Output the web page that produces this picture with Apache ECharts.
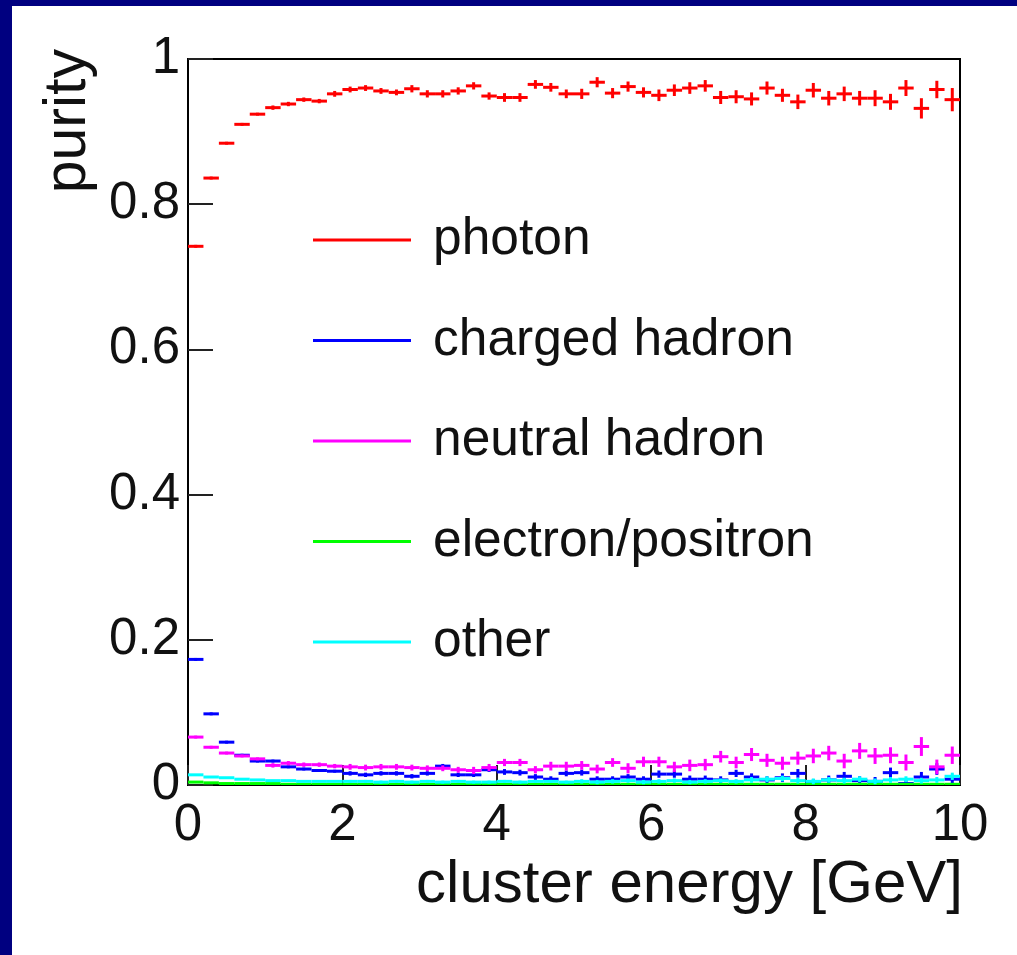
<!DOCTYPE html>
<html>
<head>
<meta charset="utf-8">
<script src="https://cdn.jsdelivr.net/npm/echarts@6/dist/echarts.min.js"></script>
<style>
html,body{margin:0;padding:0;background:#fff;}
#chart{width:1017px;height:955px;}
</style>
</head>
<body>
<div id="chart"></div>
<script>
// ---- data (bins of 0.2 GeV from 0 to 10 GeV) ----
const binWidth = 0.2;
const seriesNames = ['photon', 'charged hadron', 'neutral hadron', 'electron/positron', 'other'];
const seriesColors = ['#ff0000', '#0000ff', '#ff00ff', '#00ff00', '#00ffff'];
const xTicks = [0, 2, 4, 6, 8, 10];
const yTicks = [0, 0.2, 0.4, 0.6, 0.8, 1];

const photon = [0.742, 0.836, 0.884, 0.910, 0.924, 0.933, 0.938, 0.944, 0.942, 0.952,
                0.958, 0.960, 0.956, 0.954, 0.959, 0.952, 0.952, 0.956, 0.963, 0.949,
                0.947, 0.947, 0.965, 0.961, 0.952, 0.952, 0.968, 0.953, 0.962, 0.954,
                0.950, 0.957, 0.960, 0.963, 0.947, 0.948, 0.945, 0.960, 0.950, 0.941,
                0.957, 0.946, 0.952, 0.946, 0.946, 0.941, 0.960, 0.932, 0.958, 0.944];
const photonErr = [0.002, 0.002, 0.002, 0.002, 0.002, 0.003, 0.003, 0.003, 0.003, 0.004,
                   0.004, 0.004, 0.004, 0.004, 0.005, 0.005, 0.005, 0.005, 0.005, 0.005,
                   0.006, 0.006, 0.006, 0.006, 0.006, 0.007, 0.007, 0.007, 0.007, 0.007,
                   0.008, 0.008, 0.008, 0.008, 0.009, 0.009, 0.009, 0.009, 0.009, 0.010,
                   0.010, 0.010, 0.010, 0.010, 0.011, 0.011, 0.011, 0.014, 0.012, 0.016];

const charged = [0.173, 0.098, 0.059, 0.041, 0.033, 0.033, 0.025, 0.022, 0.020, 0.019,
                 0.016, 0.014, 0.016, 0.016, 0.012, 0.016, 0.026, 0.014, 0.014, 0.021,
                 0.018, 0.017, 0.011, 0.008, 0.016, 0.017, 0.008, 0.008, 0.011, 0.008,
                 0.015, 0.015, 0.008, 0.008, 0.007, 0.016, 0.011, 0.007, 0.010, 0.016,
                 0.003, 0.007, 0.012, 0.006, 0.005, 0.017, 0.002, 0.011, 0.022, 0.008];
const chargedErr = [0.002, 0.002, 0.002, 0.002, 0.002, 0.002, 0.002, 0.002, 0.002, 0.002,
                    0.003, 0.003, 0.003, 0.003, 0.003, 0.003, 0.003, 0.003, 0.003, 0.003,
                    0.004, 0.004, 0.004, 0.004, 0.004, 0.004, 0.004, 0.004, 0.004, 0.004,
                    0.005, 0.005, 0.005, 0.005, 0.005, 0.005, 0.005, 0.005, 0.006, 0.006,
                    0.005, 0.006, 0.006, 0.006, 0.006, 0.007, 0.005, 0.007, 0.008, 0.006];

const neutral = [0.066, 0.052, 0.044, 0.040, 0.036, 0.027, 0.030, 0.028, 0.028, 0.026,
                 0.025, 0.024, 0.025, 0.025, 0.024, 0.023, 0.023, 0.021, 0.020, 0.024,
                 0.031, 0.031, 0.021, 0.026, 0.026, 0.027, 0.022, 0.031, 0.023, 0.032,
                 0.032, 0.025, 0.027, 0.028, 0.039, 0.031, 0.042, 0.034, 0.030, 0.037,
                 0.040, 0.044, 0.033, 0.047, 0.040, 0.041, 0.031, 0.053, 0.025, 0.041];
const neutralErr = [0.002, 0.002, 0.002, 0.002, 0.002, 0.003, 0.003, 0.003, 0.003, 0.003,
                    0.004, 0.004, 0.004, 0.004, 0.004, 0.004, 0.004, 0.004, 0.005, 0.005,
                    0.005, 0.005, 0.005, 0.006, 0.006, 0.006, 0.006, 0.006, 0.007, 0.007,
                    0.007, 0.007, 0.008, 0.008, 0.008, 0.008, 0.009, 0.009, 0.009, 0.009,
                    0.010, 0.010, 0.010, 0.011, 0.011, 0.011, 0.011, 0.013, 0.010, 0.012];

const electron = [0.004, 0.003, 0.002, 0.002, 0.002, 0.002, 0.001, 0.001, 0.001, 0.001,
                  0.001, 0.001, 0.001, 0.001, 0.001, 0.001, 0.001, 0.001, 0.001, 0.001,
                  0.001, 0.001, 0.001, 0.001, 0.001, 0.001, 0.001, 0.001, 0.001, 0.001,
                  0.001, 0.001, 0.001, 0.001, 0.001, 0.001, 0.001, 0.001, 0.001, 0.001,
                  0.001, 0.001, 0.001, 0.001, 0.001, 0.001, 0.001, 0.001, 0.001, 0.001];
const electronErr = [0.001, 0.001, 0.001, 0.001, 0.001, 0.001, 0.001, 0.001, 0.001, 0.001,
                     0.001, 0.001, 0.001, 0.001, 0.001, 0.001, 0.001, 0.001, 0.001, 0.001,
                     0.001, 0.001, 0.001, 0.001, 0.001, 0.001, 0.001, 0.001, 0.001, 0.001,
                     0.001, 0.001, 0.001, 0.001, 0.001, 0.001, 0.001, 0.001, 0.001, 0.001,
                     0.001, 0.001, 0.001, 0.001, 0.001, 0.001, 0.001, 0.001, 0.001, 0.001];

const other = [0.014, 0.011, 0.010, 0.008, 0.007, 0.006, 0.006, 0.005, 0.005, 0.005,
               0.005, 0.005, 0.004, 0.005, 0.004, 0.005, 0.004, 0.005, 0.004, 0.004,
               0.005, 0.004, 0.005, 0.005, 0.004, 0.005, 0.004, 0.005, 0.006, 0.004,
               0.005, 0.006, 0.004, 0.005, 0.006, 0.005, 0.007, 0.008, 0.009, 0.006,
               0.005, 0.007, 0.006, 0.008, 0.005, 0.007, 0.008, 0.006, 0.007, 0.012];
const otherErr = [0.001, 0.001, 0.001, 0.001, 0.001, 0.001, 0.001, 0.001, 0.001, 0.001,
                  0.002, 0.002, 0.002, 0.002, 0.002, 0.002, 0.002, 0.002, 0.002, 0.002,
                  0.002, 0.002, 0.002, 0.002, 0.002, 0.003, 0.003, 0.003, 0.003, 0.003,
                  0.003, 0.003, 0.003, 0.003, 0.003, 0.003, 0.004, 0.004, 0.004, 0.004,
                  0.004, 0.004, 0.004, 0.004, 0.004, 0.004, 0.004, 0.004, 0.004, 0.005];

const allValues = [photon, charged, neutral, electron, other];
const allErrors = [photonErr, chargedErr, neutralErr, electronErr, otherErr];

// ---- chart ----
const FONT = "'Liberation Sans', Arial, Helvetica, sans-serif";

function toData(vals, errs) {
  return vals.map((v, i) => [i * binWidth, (i + 1) * binWidth, v, errs[i]]);
}

function makeRender(color) {
  return function (params, api) {
    const x0 = api.value(0), x1 = api.value(1), y = api.value(2), e = api.value(3);
    const a = api.coord([x0, y]);
    const b = api.coord([x1, y]);
    const xm = (a[0] + b[0]) / 2;
    const yt = api.coord([(x0 + x1) / 2, y + e])[1];
    const yb = api.coord([(x0 + x1) / 2, y - e])[1];
    return {
      type: 'group',
      children: [
        { type: 'line', shape: { x1: a[0], y1: a[1], x2: b[0], y2: b[1] },
          style: { stroke: color, lineWidth: 3 } },
        { type: 'line', shape: { x1: xm, y1: yt, x2: xm, y2: yb },
          style: { stroke: color, lineWidth: 3 } }
      ]
    };
  };
}

const series = seriesNames.map((name, k) => ({
  name: name,
  type: 'custom',
  renderItem: makeRender(seriesColors[k]),
  itemStyle: { color: seriesColors[k] },
  encode: { x: [0, 1], y: 2 },
  clip: true,
  data: toData(allValues[k], allErrors[k])
}));

const chart = echarts.init(document.getElementById('chart'), null, { renderer: 'canvas' });
chart.setOption({
  animation: false,
  backgroundColor: '#ffffff',
  color: seriesColors,
  grid: {
    left: 188, right: 57, top: 59, bottom: 170,
    show: true, borderColor: '#000', borderWidth: 2, backgroundColor: 'transparent'
  },
  xAxis: {
    type: 'value', min: xTicks[0], max: xTicks[xTicks.length - 1], interval: 2,
    axisLine: { show: false },
    axisTick: { show: true, inside: true, length: 20, lineStyle: { color: '#222', width: 2 } },
    splitLine: { show: false },
    axisLabel: { fontSize: 51, fontFamily: FONT, color: '#111', margin: 15,
                 showMinLabel: true, showMaxLabel: true }
  },
  yAxis: {
    type: 'value', min: yTicks[0], max: yTicks[yTicks.length - 1], interval: 0.2,
    axisLine: { show: false },
    axisTick: { show: true, inside: true, length: 25, lineStyle: { color: '#222', width: 2 } },
    splitLine: { show: false },
    axisLabel: { fontSize: 51, fontFamily: FONT, color: '#111', margin: 8,
                 showMinLabel: true, showMaxLabel: true }
  },
  legend: {
    orient: 'vertical', left: 308, top: 209,
    itemWidth: 98, itemHeight: 3, itemGap: 48.5, icon: 'rect',
    selectedMode: false,
    textStyle: { fontSize: 51.5, fontFamily: FONT, color: '#111', lineHeight: 50,
                 padding: [0, 0, 0, 17] },
    data: seriesNames
  },
  graphic: [
    { type: 'rect', left: 0, top: 0, shape: { width: 1017, height: 6 }, style: { fill: '#000080' }, z: 100 },
    { type: 'rect', left: 0, top: 0, shape: { width: 12, height: 955 }, style: { fill: '#000080' }, z: 100 },
    { type: 'text', x: 69, y: 49, rotation: Math.PI / 2,
      style: { text: 'purity', font: "59px 'Liberation Sans', Arial, sans-serif",
               fill: '#111', align: 'right', verticalAlign: 'middle' } },
    { type: 'text', x: 963, y: 885,
      style: { text: 'cluster energy [GeV]', font: "60px 'Liberation Sans', Arial, sans-serif",
               fill: '#111', align: 'right', verticalAlign: 'middle' } }
  ],
  series: series
});
</script>
</body>
</html>
